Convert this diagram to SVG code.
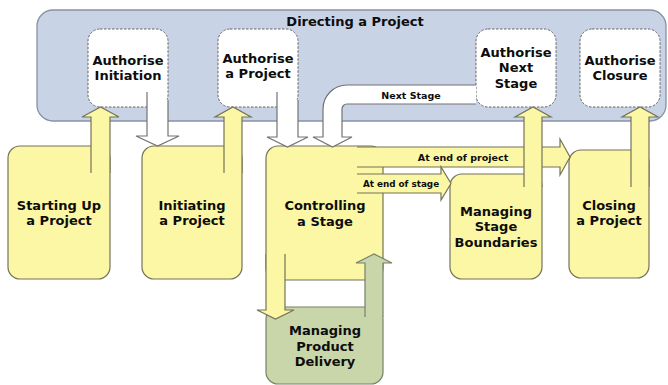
<svg xmlns="http://www.w3.org/2000/svg" width="668" height="385" viewBox="0 0 668 385">
<style>
.band{fill:#c9d3e6;stroke:#8592a6;stroke-width:1.3}
.auth{fill:#ffffff;stroke:#666666;stroke-width:1;stroke-dasharray:2.5,1.5}
.yel{fill:#fcf7a4;stroke:#75735a;stroke-width:1.2}
.grn{fill:#c9d6aa;stroke:#76806a;stroke-width:1.2}
.wht{fill:#ffffff;stroke:#737373;stroke-width:1.2}
text{font-family:"DejaVu Sans","Liberation Sans",sans-serif;font-weight:bold;fill:#0d0d0d;text-anchor:middle}
.t{font-size:13px}
.s{font-size:9.5px}
.xs{font-size:8.8px}
</style>
<rect width="668" height="385" fill="#ffffff"/>
<g id="directing">
<rect class="band" x="37" y="10" width="629" height="111" rx="16"/>
<text class="t" x="355" y="26">Directing a Project</text>
</g>
<g id="authorise-initiation">
<rect class="auth" x="88" y="29" width="80" height="78" rx="12"/>
<text class="t" x="128" y="65">Authorise</text>
<text class="t" x="128" y="80">Initiation</text>
</g>
<g id="authorise-project">
<rect class="auth" x="218" y="29" width="80" height="78" rx="12"/>
<text class="t" x="258" y="63">Authorise</text>
<text class="t" x="258" y="78">a Project</text>
</g>
<g id="authorise-next-stage">
<rect class="auth" x="476" y="29" width="80" height="78" rx="12"/>
<text class="t" x="516" y="57">Authorise</text>
<text class="t" x="516" y="72">Next</text>
<text class="t" x="516" y="88">Stage</text>
</g>
<g id="authorise-closure">
<rect class="auth" x="580" y="29" width="80" height="78" rx="12"/>
<text class="t" x="620" y="65">Authorise</text>
<text class="t" x="620" y="80">Closure</text>
</g>
<g id="starting-up">
<rect class="yel" x="8" y="146" width="102" height="133" rx="12"/>
<text class="t" x="59" y="210">Starting Up</text>
<text class="t" x="59" y="225">a Project</text>
</g>
<g id="initiating">
<rect class="yel" x="142" y="146" width="100" height="133" rx="12"/>
<text class="t" x="192" y="210">Initiating</text>
<text class="t" x="192" y="225">a Project</text>
</g>
<g id="controlling">
<rect class="yel" x="266" y="146" width="117" height="134" rx="12"/>
<text class="t" x="325" y="210">Controlling</text>
<text class="t" x="325" y="226">a Stage</text>
</g>
<g id="managing-stage-boundaries">
<rect class="yel" x="450" y="174" width="92" height="105" rx="12"/>
<text class="t" x="496" y="216">Managing</text>
<text class="t" x="496" y="231">Stage</text>
<text class="t" x="496" y="247">Boundaries</text>
</g>
<g id="closing">
<rect class="yel" x="569" y="150" width="80" height="128" rx="12"/>
<text class="t" x="609" y="210">Closing</text>
<text class="t" x="609" y="225">a Project</text>
</g>
<g id="managing-product-delivery">
<rect class="grn" x="266" y="307" width="117" height="77" rx="12"/>
<text class="t" x="325" y="335">Managing</text>
<text class="t" x="325" y="351">Product</text>
<text class="t" x="325" y="366">Delivery</text>
</g>
<g id="connectors">
<path class="wht" d="M476,85 H347 A24,24 0 0 0 323,109 V137 H313 L332.5,147 L352,137 H342 V109 A5,5 0 0 1 347,104 H476"/>
<text class="s" x="411" y="98.5">Next Stage</text>
<path class="wht" d="M147,92 V136 H136 L157.5,146 L179,136 H168 V100"/>
<path class="wht" d="M277,92 V137 H267 L287.5,147 L308,137 H298 V100"/>
<path class="yel" d="M357,147 H560 V139 L570,157 L560,175 V167 H357"/>
<text class="s" x="463" y="160.5">At end of project</text>
<path class="yel" d="M357,174 H441 V167 L451,183.5 L441,200 V193 H357"/>
<text class="xs" x="401" y="186.5">At end of stage</text>
<path class="yel" d="M91,173 V117 H82 L100.5,107 L119,117 H110 V173"/>
<path class="yel" d="M224,173 V117 H215 L233,107 L251,117 H242 V173"/>
<path class="yel" d="M524,187 V117 H515 L533,107 L551,117 H542 V187"/>
<path class="yel" d="M631,187 V117 H622 L640,107 L658,117 H649 V187"/>
<path class="yel" d="M285,254 V310 H294 L275.5,319 L257,310 H266 V254"/>
<path class="grn" d="M365,317 V263 H356 L374,254 L392,263 H383 V317"/>
</g>
</svg>
